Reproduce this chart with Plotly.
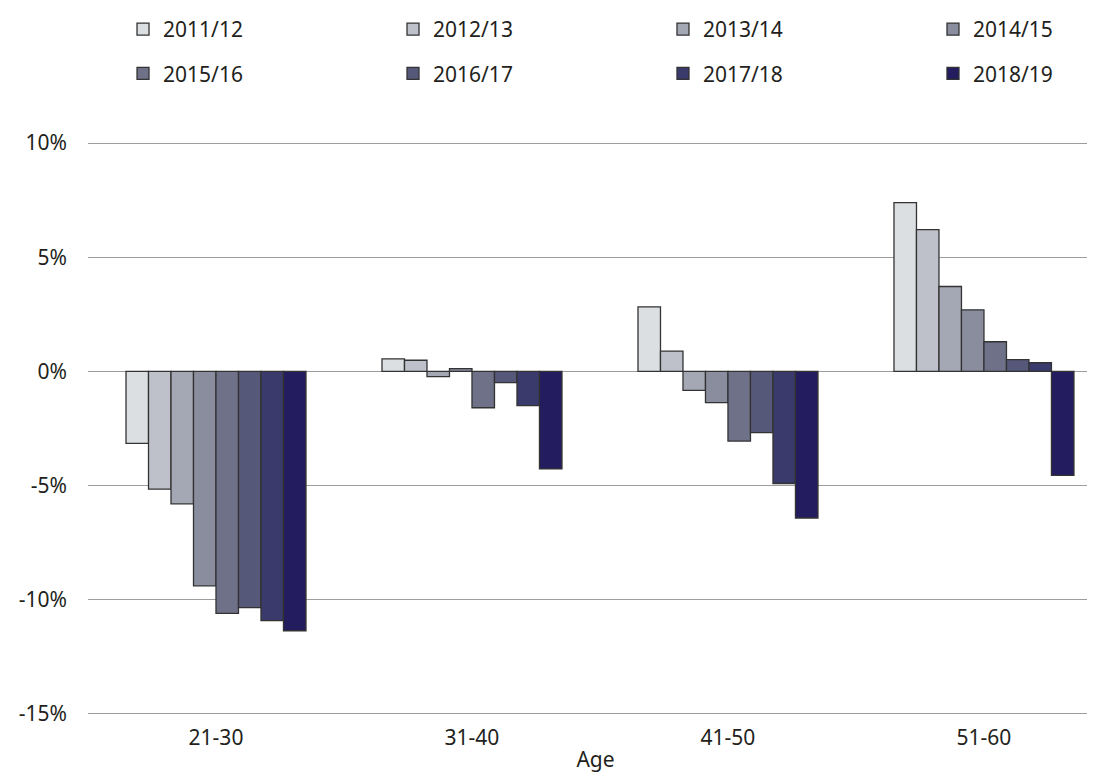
import plotly.graph_objects as go

categories = ["21-30", "31-40", "41-50", "51-60"]
years = ["2011/12", "2012/13", "2013/14", "2014/15",
         "2015/16", "2016/17", "2017/18", "2018/19"]

v_2011_12 = [-3.15, 0.55, 2.83, 7.39]
v_2012_13 = [-5.16, 0.49, 0.89, 6.21]
v_2013_14 = [-5.80, -0.23, -0.83, 3.72]
v_2014_15 = [-9.39, 0.12, -1.37, 2.70]
v_2015_16 = [-10.60, -1.59, -3.05, 1.30]
v_2016_17 = [-10.35, -0.49, -2.68, 0.52]
v_2017_18 = [-10.92, -1.50, -4.91, 0.38]
v_2018_19 = [-11.36, -4.27, -6.42, -4.55]
series = [v_2011_12, v_2012_13, v_2013_14, v_2014_15,
          v_2015_16, v_2016_17, v_2017_18, v_2018_19]

y_tick_vals = [-15, -10, -5, 0, 5, 10]
y_tick_text = ["-15%", "-10%", "-5%", "0%", "5%", "10%"]

colors = ["#dcdfe2", "#bfc1ca", "#a4a7b4", "#8a8d9e",
          "#6f7189", "#555878", "#3a3a6c", "#231c5e"]

FONT = "Noto Sans"
TXT = "#231f20"
FS = 21

# legend columns: column k holds years k and k+4
legend_names = ["legend", "legend2", "legend3", "legend4"]

fig = go.Figure()
for i, (name, vals) in enumerate(zip(years, series)):
    fig.add_trace(go.Bar(
        x=categories, y=vals, name=name,
        marker=dict(color=colors[i], line=dict(color="#333333", width=1.3)),
        legend=legend_names[i % 4],
        legendgroup=name,
    ))

legend_common = dict(
    orientation="v", xanchor="left", yanchor="middle", y=1.158,
    font=dict(family=FONT, size=FS, color=TXT),
    bgcolor="rgba(0,0,0,0)", borderwidth=0, itemclick=False,
    tracegroupgap=14,
)

col_x = [0.0345, 0.3005, 0.5665, 0.8325]

fig.update_layout(
    width=1095, height=776,
    margin=dict(l=80, r=0, t=134, b=69, autoexpand=False),
    paper_bgcolor="white", plot_bgcolor="white",
    barmode="group", bargap=0.297, bargroupgap=0,
    font=dict(family=FONT, size=FS, color=TXT),
    legend=dict(x=col_x[0], **legend_common),
    legend2=dict(x=col_x[1], **legend_common),
    legend3=dict(x=col_x[2], **legend_common),
    legend4=dict(x=col_x[3], **legend_common),
    xaxis=dict(
        type="category", range=[-0.5, 3.465], automargin=False,
        showgrid=False, showline=False, zeroline=False,
        ticks="", ticklabelstandoff=8,
        tickfont=dict(family=FONT, size=FS, color=TXT),
        title=dict(text="Age", standoff=2,
                   font=dict(family=FONT, size=FS, color=TXT)),
    ),
    yaxis=dict(
        range=[-15.05, 10.05], tickvals=y_tick_vals, ticktext=y_tick_text,
        automargin=False,
        showgrid=True, gridcolor="#9d9d9d", gridwidth=1,
        zeroline=True, zerolinecolor="#9d9d9d", zerolinewidth=1,
        showline=False, ticks="", ticklabelstandoff=20,
        tickfont=dict(family=FONT, size=FS, color=TXT),
    ),
)

fig.write_html("out.html")
